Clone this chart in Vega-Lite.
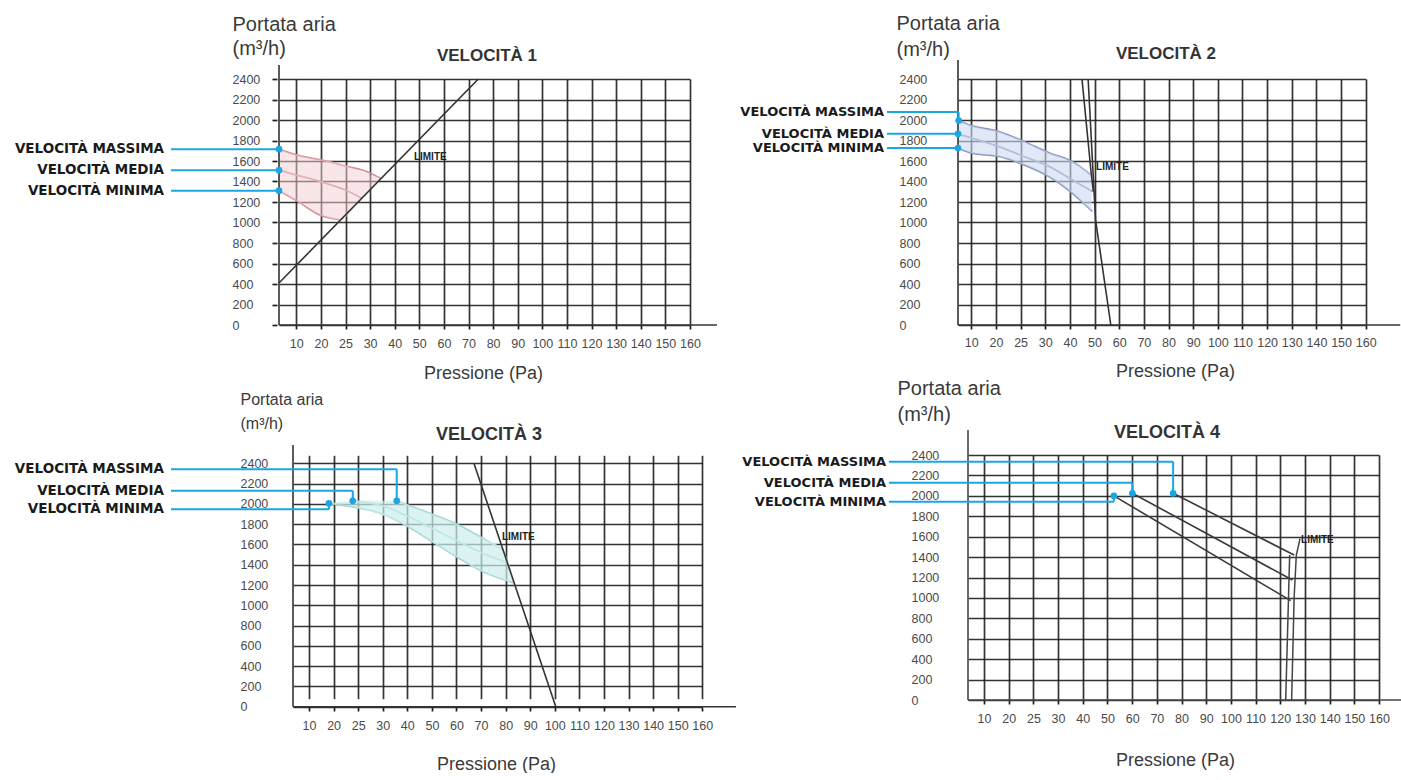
{
  "$schema": "https://vega.github.io/schema/vega-lite/v6.json",
  "background": "white",
  "padding": {"left": 14, "top": 13, "right": 0, "bottom": 0},
  "config": {
    "view": {"stroke": null},
    "axis": {"domain": false, "grid": true, "gridColor": "#1e1e1e", "gridWidth": 1.7, "gridOpacity": 0.9, "tickColor": "#1e1e1e", "tickWidth": 1.7, "labelFont": "Liberation Sans", "labelColor": "#4a4a4a", "labelFontSize": 12.5, "titleFont": "Liberation Sans", "titleFontWeight": "normal", "titleColor": "#3a3a3a", "labelOverlap": false, "labelFlush": false, "labelBound": false},
    "title": {"font": "Liberation Sans", "fontWeight": "bold", "color": "#333333", "anchor": "middle", "frame": "group"}
  },
  "datasets": {
    "curves": [
      {"panel": 1, "serie": "VELOCITÀ MASSIMA", "p": 0, "q": 1715},
      {"panel": 1, "serie": "VELOCITÀ MASSIMA", "p": 10, "q": 1659},
      {"panel": 1, "serie": "VELOCITÀ MASSIMA", "p": 20, "q": 1610},
      {"panel": 1, "serie": "VELOCITÀ MASSIMA", "p": 25, "q": 1551},
      {"panel": 1, "serie": "VELOCITÀ MASSIMA", "p": 30, "q": 1483},
      {"panel": 1, "serie": "VELOCITÀ MASSIMA", "p": 34.3, "q": 1430},
      {"panel": 1, "serie": "VELOCITÀ MEDIA", "p": 0, "q": 1510},
      {"panel": 1, "serie": "VELOCITÀ MEDIA", "p": 10, "q": 1463},
      {"panel": 1, "serie": "VELOCITÀ MEDIA", "p": 20, "q": 1398},
      {"panel": 1, "serie": "VELOCITÀ MEDIA", "p": 25, "q": 1317},
      {"panel": 1, "serie": "VELOCITÀ MEDIA", "p": 28.3, "q": 1236},
      {"panel": 1, "serie": "VELOCITÀ MINIMA", "p": 0, "q": 1310},
      {"panel": 1, "serie": "VELOCITÀ MINIMA", "p": 10, "q": 1215},
      {"panel": 1, "serie": "VELOCITÀ MINIMA", "p": 19.5, "q": 1075},
      {"panel": 1, "serie": "VELOCITÀ MINIMA", "p": 24, "q": 1025},
      {"panel": 2, "serie": "VELOCITÀ MASSIMA", "p": 0, "q": 1995},
      {"panel": 2, "serie": "VELOCITÀ MASSIMA", "p": 10, "q": 1945},
      {"panel": 2, "serie": "VELOCITÀ MASSIMA", "p": 20.6, "q": 1887},
      {"panel": 2, "serie": "VELOCITÀ MASSIMA", "p": 25.7, "q": 1790},
      {"panel": 2, "serie": "VELOCITÀ MASSIMA", "p": 31.5, "q": 1680},
      {"panel": 2, "serie": "VELOCITÀ MASSIMA", "p": 40.9, "q": 1595},
      {"panel": 2, "serie": "VELOCITÀ MASSIMA", "p": 48.4, "q": 1466},
      {"panel": 2, "serie": "VELOCITÀ MEDIA", "p": 0, "q": 1865},
      {"panel": 2, "serie": "VELOCITÀ MEDIA", "p": 10.3, "q": 1823},
      {"panel": 2, "serie": "VELOCITÀ MEDIA", "p": 20.6, "q": 1741},
      {"panel": 2, "serie": "VELOCITÀ MEDIA", "p": 25.7, "q": 1644},
      {"panel": 2, "serie": "VELOCITÀ MEDIA", "p": 31.5, "q": 1547},
      {"panel": 2, "serie": "VELOCITÀ MEDIA", "p": 40.9, "q": 1417},
      {"panel": 2, "serie": "VELOCITÀ MEDIA", "p": 49.1, "q": 1303},
      {"panel": 2, "serie": "VELOCITÀ MINIMA", "p": 0, "q": 1726},
      {"panel": 2, "serie": "VELOCITÀ MINIMA", "p": 10.3, "q": 1677},
      {"panel": 2, "serie": "VELOCITÀ MINIMA", "p": 20.6, "q": 1644},
      {"panel": 2, "serie": "VELOCITÀ MINIMA", "p": 25.7, "q": 1563},
      {"panel": 2, "serie": "VELOCITÀ MINIMA", "p": 31.5, "q": 1449},
      {"panel": 2, "serie": "VELOCITÀ MINIMA", "p": 40.9, "q": 1288},
      {"panel": 2, "serie": "VELOCITÀ MINIMA", "p": 49.1, "q": 1109},
      {"panel": 3, "serie": "VELOCITÀ MASSIMA", "p": 35.7, "q": 2030},
      {"panel": 3, "serie": "VELOCITÀ MASSIMA", "p": 40, "q": 1990},
      {"panel": 3, "serie": "VELOCITÀ MASSIMA", "p": 50, "q": 1900},
      {"panel": 3, "serie": "VELOCITÀ MASSIMA", "p": 60, "q": 1800},
      {"panel": 3, "serie": "VELOCITÀ MASSIMA", "p": 70, "q": 1670},
      {"panel": 3, "serie": "VELOCITÀ MASSIMA", "p": 79, "q": 1545},
      {"panel": 3, "serie": "VELOCITÀ MEDIA", "p": 23.9, "q": 2030},
      {"panel": 3, "serie": "VELOCITÀ MEDIA", "p": 30, "q": 1980},
      {"panel": 3, "serie": "VELOCITÀ MEDIA", "p": 40, "q": 1880},
      {"panel": 3, "serie": "VELOCITÀ MEDIA", "p": 50, "q": 1760},
      {"panel": 3, "serie": "VELOCITÀ MEDIA", "p": 60, "q": 1640},
      {"panel": 3, "serie": "VELOCITÀ MEDIA", "p": 70, "q": 1520},
      {"panel": 3, "serie": "VELOCITÀ MEDIA", "p": 80.7, "q": 1420},
      {"panel": 3, "serie": "VELOCITÀ MINIMA", "p": 18.1, "q": 2005},
      {"panel": 3, "serie": "VELOCITÀ MINIMA", "p": 25, "q": 1960},
      {"panel": 3, "serie": "VELOCITÀ MINIMA", "p": 30, "q": 1900},
      {"panel": 3, "serie": "VELOCITÀ MINIMA", "p": 40, "q": 1780},
      {"panel": 3, "serie": "VELOCITÀ MINIMA", "p": 50, "q": 1630},
      {"panel": 3, "serie": "VELOCITÀ MINIMA", "p": 60, "q": 1480},
      {"panel": 3, "serie": "VELOCITÀ MINIMA", "p": 70, "q": 1340},
      {"panel": 3, "serie": "VELOCITÀ MINIMA", "p": 83.5, "q": 1220},
      {"panel": 4, "serie": "VELOCITÀ MASSIMA", "p": 76.6, "q": 2025},
      {"panel": 4, "serie": "VELOCITÀ MASSIMA", "p": 125.6, "q": 1420},
      {"panel": 4, "serie": "VELOCITÀ MEDIA", "p": 60.1, "q": 2025},
      {"panel": 4, "serie": "VELOCITÀ MEDIA", "p": 124.9, "q": 1175},
      {"panel": 4, "serie": "VELOCITÀ MINIMA", "p": 52.6, "q": 2000},
      {"panel": 4, "serie": "VELOCITÀ MINIMA", "p": 124.2, "q": 973}
    ],
    "limits": [
      {"panel": 1, "seg": "a", "p": 0, "q": 410},
      {"panel": 1, "seg": "a", "p": 74, "q": 2400},
      {"panel": 2, "seg": "a", "p": 44.9, "q": 2400},
      {"panel": 2, "seg": "a", "p": 48.5, "q": 1515},
      {"panel": 2, "seg": "a", "p": 49.5, "q": 1300},
      {"panel": 2, "seg": "b", "p": 47.4, "q": 2400},
      {"panel": 2, "seg": "b", "p": 50.4, "q": 1028},
      {"panel": 2, "seg": "b", "p": 56.6, "q": 0},
      {"panel": 3, "seg": "a", "p": 67.1, "q": 2400},
      {"panel": 3, "seg": "a", "p": 100.4, "q": 0},
      {"panel": 4, "seg": "a", "p": 122.2, "q": 0},
      {"panel": 4, "seg": "a", "p": 123.8, "q": 1420},
      {"panel": 4, "seg": "b", "p": 124.6, "q": 0},
      {"panel": 4, "seg": "b", "p": 125.6, "q": 1000},
      {"panel": 4, "seg": "b", "p": 126.5, "q": 1420},
      {"panel": 4, "seg": "b", "p": 128, "q": 1580}
    ],
    "bands": [
      {"panel": 1, "p": 0, "lo": 1310, "hi": 1715},
      {"panel": 1, "p": 10, "lo": 1215, "hi": 1659},
      {"panel": 1, "p": 20, "lo": 1073, "hi": 1610},
      {"panel": 1, "p": 24, "lo": 1025, "hi": 1575},
      {"panel": 1, "p": 28, "lo": 1222, "hi": 1500},
      {"panel": 1, "p": 34.3, "lo": 1430, "hi": 1430},
      {"panel": 2, "p": 0, "lo": 1726, "hi": 1995},
      {"panel": 2, "p": 10.3, "lo": 1677, "hi": 1943},
      {"panel": 2, "p": 20.6, "lo": 1644, "hi": 1887},
      {"panel": 2, "p": 25.7, "lo": 1563, "hi": 1790},
      {"panel": 2, "p": 31.5, "lo": 1449, "hi": 1680},
      {"panel": 2, "p": 40.9, "lo": 1288, "hi": 1595},
      {"panel": 2, "p": 48.8, "lo": 1109, "hi": 1466},
      {"panel": 3, "p": 18.1, "lo": 2005, "hi": 2005},
      {"panel": 3, "p": 25, "lo": 1960, "hi": 2030},
      {"panel": 3, "p": 35.7, "lo": 1830, "hi": 2030},
      {"panel": 3, "p": 40, "lo": 1780, "hi": 1990},
      {"panel": 3, "p": 50, "lo": 1630, "hi": 1900},
      {"panel": 3, "p": 60, "lo": 1480, "hi": 1800},
      {"panel": 3, "p": 70, "lo": 1340, "hi": 1670},
      {"panel": 3, "p": 79, "lo": 1255, "hi": 1545},
      {"panel": 3, "p": 83.5, "lo": 1220, "hi": 1220}
    ],
    "callouts": [
      {"panel": 1, "serie": "VELOCITÀ MASSIMA", "pa": -62.4, "p0": 0, "q0": 1715, "ql": 1715},
      {"panel": 1, "serie": "VELOCITÀ MEDIA", "pa": -62.4, "p0": 0, "q0": 1510, "ql": 1510},
      {"panel": 1, "serie": "VELOCITÀ MINIMA", "pa": -62.4, "p0": 0, "q0": 1310, "ql": 1310},
      {"panel": 2, "serie": "VELOCITÀ MASSIMA", "pa": -53.4, "p0": 0.5, "q0": 1995, "ql": 2077},
      {"panel": 2, "serie": "VELOCITÀ MEDIA", "pa": -53.4, "p0": 0, "q0": 1865, "ql": 1865},
      {"panel": 2, "serie": "VELOCITÀ MINIMA", "pa": -53.4, "p0": 0, "q0": 1726, "ql": 1726},
      {"panel": 3, "serie": "VELOCITÀ MASSIMA", "pa": -76.25, "p0": 35.7, "q0": 2030, "ql": 2341},
      {"panel": 3, "serie": "VELOCITÀ MEDIA", "pa": -76.25, "p0": 23.9, "q0": 2030, "ql": 2130},
      {"panel": 3, "serie": "VELOCITÀ MINIMA", "pa": -76.25, "p0": 18.1, "q0": 2005, "ql": 1946},
      {"panel": 4, "serie": "VELOCITÀ MASSIMA", "pa": -49.4, "p0": 76.6, "q0": 2025, "ql": 2334},
      {"panel": 4, "serie": "VELOCITÀ MEDIA", "pa": -49.4, "p0": 60.1, "q0": 2025, "ql": 2128},
      {"panel": 4, "serie": "VELOCITÀ MINIMA", "pa": -49.4, "p0": 52.6, "q0": 2000, "ql": 1942}
    ],
    "axisLines": [
      {"panel": 1, "pa": 0, "pb": 171, "qa": 0, "qb": 0},
      {"panel": 1, "pa": 0, "pb": 0, "qa": 0, "qb": 2537},
      {"panel": 2, "pa": 0, "pb": 174, "qa": 0, "qb": 0},
      {"panel": 2, "pa": 0, "pb": 0, "qa": 0, "qb": 2585},
      {"panel": 3, "pa": 0, "pb": 173.7, "qa": 0, "qb": 0},
      {"panel": 3, "pa": 0, "pb": 0, "qa": 0, "qb": 2580},
      {"panel": 4, "pa": 0, "pb": 170, "qa": 0, "qb": 0},
      {"panel": 4, "pa": 0, "pb": 0, "qa": 0, "qb": 2645}
    ],
    "limitLabels": [
      {"panel": 1, "p": 47.8, "q": 1639, "label": "LIMITE"},
      {"panel": 2, "p": 50.6, "q": 1541, "label": "LIMITE"},
      {"panel": 3, "p": 78.5, "q": 1673, "label": "LIMITE"},
      {"panel": 4, "p": 128.4, "q": 1567, "label": "LIMITE"}
    ]
  },
  "columns": 2,
  "align": "none",
  "bounds": "flush",
  "spacing": {"row": 130, "column": 249},
  "concat": [
    {
      "width": 413, "height": 246,
      "title": {"text": "VELOCITÀ 1", "fontSize": 17, "offset": -64, "dx": 3.5, "baseline": "alphabetic"},
      "layer": [
        {"data": {"name": "curves"}, "transform": [{"filter": "datum.panel == 1"}],
         "mark": {"type": "line", "color": "#d8909c", "strokeWidth": 1.8, "interpolate": "monotone"},
         "encoding": {"x": {"field": "p", "type": "quantitative", "scale": {"domain": [0,10,20,25,30,40,50,60,70,80,90,100,110,120,130,140,150,160], "range": [2,19.3,43.9,68.5,93.1,117.7,142.3,166.9,191.5,216.1,240.7,265.3,289.9,314.5,339.1,363.7,388.3,412.9], "nice": false, "zero": false},
                            "axis": {"values": [10,20,25,30,40,50,60,70,80,90,100,110,120,130,140,150,160], "tickCount": 40, "format": "d", "title": "Pressione (Pa)", "titleX": 206, "titleY": 53, "titleAlign": "center", "titleBaseline": "alphabetic", "titleFontSize": 18, "tickSize": 4, "labelPadding": 8}},
                      "y": {"field": "q", "type": "quantitative", "scale": {"domain": [0,2400], "range": [246,0], "nice": false, "zero": false},
                            "axis": {"values": [0,200,400,600,800,1000,1200,1400,1600,1800,2000,2200,2400], "tickCount": 40, "format": "d", "title": ["Portata aria", "(m³/h)"], "titleAngle": 0, "titleAlign": "left", "titleBaseline": "top", "titleX": -45, "titleY": -65, "titleFontSize": 20, "titleLineHeight": 24, "tickSize": 5, "labelAlign": "left", "labelBaseline": "middle", "labelPadding": 40}},
                      "detail": {"field": "serie", "type": "nominal"}}},
        {"data": {"name": "bands"}, "transform": [{"filter": "datum.panel == 1"}],
         "mark": {"type": "area", "color": "#f2cdd4", "opacity": 0.5, "interpolate": "monotone"},
         "encoding": {"x": {"field": "p", "type": "quantitative", "scale": {"domain": [0,10,20,25,30,40,50,60,70,80,90,100,110,120,130,140,150,160], "range": [2,19.3,43.9,68.5,93.1,117.7,142.3,166.9,191.5,216.1,240.7,265.3,289.9,314.5,339.1,363.7,388.3,412.9], "nice": false, "zero": false}},
                      "y": {"field": "lo", "type": "quantitative", "scale": {"domain": [0,2400], "range": [246,0], "nice": false, "zero": false}},
                      "y2": {"field": "hi"}}},
        {"data": {"name": "limits"}, "transform": [{"filter": "datum.panel == 1"}],
         "mark": {"type": "line", "color": "#333333", "strokeWidth": 1.6},
         "encoding": {"x": {"field": "p", "type": "quantitative", "scale": {"domain": [0,10,20,25,30,40,50,60,70,80,90,100,110,120,130,140,150,160], "range": [2,19.3,43.9,68.5,93.1,117.7,142.3,166.9,191.5,216.1,240.7,265.3,289.9,314.5,339.1,363.7,388.3,412.9], "nice": false, "zero": false}},
                      "y": {"field": "q", "type": "quantitative", "scale": {"domain": [0,2400], "range": [246,0], "nice": false, "zero": false}},
                      "detail": {"field": "seg", "type": "nominal"}}},
        {"data": {"name": "axisLines"}, "transform": [{"filter": "datum.panel == 1"}],
         "mark": {"type": "rule", "color": "#333333", "strokeWidth": 1.6},
         "encoding": {"x": {"field": "pa", "type": "quantitative", "scale": {"domain": [0,10,20,25,30,40,50,60,70,80,90,100,110,120,130,140,150,160], "range": [2,19.3,43.9,68.5,93.1,117.7,142.3,166.9,191.5,216.1,240.7,265.3,289.9,314.5,339.1,363.7,388.3,412.9], "nice": false, "zero": false}},
                      "x2": {"field": "pb"},
                      "y": {"field": "qa", "type": "quantitative", "scale": {"domain": [0,2400], "range": [246,0], "nice": false, "zero": false}},
                      "y2": {"field": "qb"}}},
        {"data": {"name": "limitLabels"}, "transform": [{"filter": "datum.panel == 1"}],
         "mark": {"type": "text", "align": "left", "baseline": "middle", "font": "Liberation Sans", "fontWeight": "bold", "fontSize": 10, "color": "#222222"},
         "encoding": {"x": {"field": "p", "type": "quantitative", "scale": {"domain": [0,10,20,25,30,40,50,60,70,80,90,100,110,120,130,140,150,160], "range": [2,19.3,43.9,68.5,93.1,117.7,142.3,166.9,191.5,216.1,240.7,265.3,289.9,314.5,339.1,363.7,388.3,412.9], "nice": false, "zero": false}},
                      "y": {"field": "q", "type": "quantitative", "scale": {"domain": [0,2400], "range": [246,0], "nice": false, "zero": false}},
                      "text": {"field": "label", "type": "nominal"}}},
        {"data": {"name": "callouts"}, "transform": [{"filter": "datum.panel == 1"}],
         "mark": {"type": "rule", "color": "#1aa6e2", "strokeWidth": 2},
         "encoding": {"x": {"field": "pa", "type": "quantitative", "scale": {"domain": [0,10,20,25,30,40,50,60,70,80,90,100,110,120,130,140,150,160], "range": [2,19.3,43.9,68.5,93.1,117.7,142.3,166.9,191.5,216.1,240.7,265.3,289.9,314.5,339.1,363.7,388.3,412.9], "nice": false, "zero": false}},
                      "x2": {"field": "p0"},
                      "y": {"field": "ql", "type": "quantitative", "scale": {"domain": [0,2400], "range": [246,0], "nice": false, "zero": false}}}},
        {"data": {"name": "callouts"}, "transform": [{"filter": "datum.panel == 1"}],
         "mark": {"type": "point", "filled": true, "color": "#1aa6e2", "size": 45, "opacity": 1},
         "encoding": {"x": {"field": "p0", "type": "quantitative", "scale": {"domain": [0,10,20,25,30,40,50,60,70,80,90,100,110,120,130,140,150,160], "range": [2,19.3,43.9,68.5,93.1,117.7,142.3,166.9,191.5,216.1,240.7,265.3,289.9,314.5,339.1,363.7,388.3,412.9], "nice": false, "zero": false}},
                      "y": {"field": "q0", "type": "quantitative", "scale": {"domain": [0,2400], "range": [246,0], "nice": false, "zero": false}}}},
        {"data": {"name": "callouts"}, "transform": [{"filter": "datum.panel == 1"}],
         "mark": {"type": "text", "align": "right", "baseline": "middle", "dx": -7, "font": "DejaVu Sans", "fontWeight": "bold", "fontSize": 13.5, "color": "#1a1a1a"},
         "encoding": {"x": {"field": "pa", "type": "quantitative", "scale": {"domain": [0,10,20,25,30,40,50,60,70,80,90,100,110,120,130,140,150,160], "range": [2,19.3,43.9,68.5,93.1,117.7,142.3,166.9,191.5,216.1,240.7,265.3,289.9,314.5,339.1,363.7,388.3,412.9], "nice": false, "zero": false}},
                      "y": {"field": "ql", "type": "quantitative", "scale": {"domain": [0,2400], "range": [246,0], "nice": false, "zero": false}},
                      "text": {"field": "serie", "type": "nominal"}}}
      ]
    },
    {
      "width": 415, "height": 246,
      "title": {"text": "VELOCITÀ 2", "fontSize": 17, "offset": -63, "dx": 7.5, "baseline": "alphabetic"},
      "layer": [
        {"data": {"name": "curves"}, "transform": [{"filter": "datum.panel == 2"}],
         "mark": {"type": "line", "color": "#8493bd", "strokeWidth": 1.8, "interpolate": "monotone"},
         "encoding": {"x": {"field": "p", "type": "quantitative", "scale": {"domain": [0,10,20,25,30,40,50,60,70,80,90,100,110,120,130,140,150,160], "range": [7,20.3,44.95,69.6,94.25,118.9,143.55,168.2,192.85,217.5,242.15,266.8,291.45,316.1,340.75,365.4,390.05,414.7], "nice": false, "zero": false},
                            "axis": {"values": [10,20,25,30,40,50,60,70,80,90,100,110,120,130,140,150,160], "tickCount": 40, "format": "d", "title": "Pressione (Pa)", "titleX": 224, "titleY": 51, "titleAlign": "center", "titleBaseline": "alphabetic", "titleFontSize": 18, "tickSize": 4, "labelPadding": 7}},
                      "y": {"field": "q", "type": "quantitative", "scale": {"domain": [0,2400], "range": [246,0], "nice": false, "zero": false},
                            "axis": {"values": [0,200,400,600,800,1000,1200,1400,1600,1800,2000,2200,2400], "tickCount": 40, "format": "d", "title": ["Portata aria", "(m³/h)"], "titleAngle": 0, "titleAlign": "left", "titleBaseline": "top", "titleX": -55, "titleY": -66, "titleFontSize": 20, "titleLineHeight": 26, "tickSize": 0, "labelAlign": "left", "labelBaseline": "middle", "labelPadding": 52}},
                      "detail": {"field": "serie", "type": "nominal"}}},
        {"data": {"name": "bands"}, "transform": [{"filter": "datum.panel == 2"}],
         "mark": {"type": "area", "color": "#cfdaf0", "opacity": 0.6, "interpolate": "monotone"},
         "encoding": {"x": {"field": "p", "type": "quantitative", "scale": {"domain": [0,10,20,25,30,40,50,60,70,80,90,100,110,120,130,140,150,160], "range": [7,20.3,44.95,69.6,94.25,118.9,143.55,168.2,192.85,217.5,242.15,266.8,291.45,316.1,340.75,365.4,390.05,414.7], "nice": false, "zero": false}},
                      "y": {"field": "lo", "type": "quantitative", "scale": {"domain": [0,2400], "range": [246,0], "nice": false, "zero": false}},
                      "y2": {"field": "hi"}}},
        {"data": {"name": "limits"}, "transform": [{"filter": "datum.panel == 2"}],
         "mark": {"type": "line", "color": "#333333", "strokeWidth": 1.6},
         "encoding": {"x": {"field": "p", "type": "quantitative", "scale": {"domain": [0,10,20,25,30,40,50,60,70,80,90,100,110,120,130,140,150,160], "range": [7,20.3,44.95,69.6,94.25,118.9,143.55,168.2,192.85,217.5,242.15,266.8,291.45,316.1,340.75,365.4,390.05,414.7], "nice": false, "zero": false}},
                      "y": {"field": "q", "type": "quantitative", "scale": {"domain": [0,2400], "range": [246,0], "nice": false, "zero": false}},
                      "detail": {"field": "seg", "type": "nominal"}}},
        {"data": {"name": "axisLines"}, "transform": [{"filter": "datum.panel == 2"}],
         "mark": {"type": "rule", "color": "#333333", "strokeWidth": 1.6},
         "encoding": {"x": {"field": "pa", "type": "quantitative", "scale": {"domain": [0,10,20,25,30,40,50,60,70,80,90,100,110,120,130,140,150,160], "range": [7,20.3,44.95,69.6,94.25,118.9,143.55,168.2,192.85,217.5,242.15,266.8,291.45,316.1,340.75,365.4,390.05,414.7], "nice": false, "zero": false}},
                      "x2": {"field": "pb"},
                      "y": {"field": "qa", "type": "quantitative", "scale": {"domain": [0,2400], "range": [246,0], "nice": false, "zero": false}},
                      "y2": {"field": "qb"}}},
        {"data": {"name": "limitLabels"}, "transform": [{"filter": "datum.panel == 2"}],
         "mark": {"type": "text", "align": "left", "baseline": "middle", "font": "Liberation Sans", "fontWeight": "bold", "fontSize": 10, "color": "#222222"},
         "encoding": {"x": {"field": "p", "type": "quantitative", "scale": {"domain": [0,10,20,25,30,40,50,60,70,80,90,100,110,120,130,140,150,160], "range": [7,20.3,44.95,69.6,94.25,118.9,143.55,168.2,192.85,217.5,242.15,266.8,291.45,316.1,340.75,365.4,390.05,414.7], "nice": false, "zero": false}},
                      "y": {"field": "q", "type": "quantitative", "scale": {"domain": [0,2400], "range": [246,0], "nice": false, "zero": false}},
                      "text": {"field": "label", "type": "nominal"}}},
        {"data": {"name": "callouts"}, "transform": [{"filter": "datum.panel == 2"}],
         "mark": {"type": "rule", "color": "#1aa6e2", "strokeWidth": 2},
         "encoding": {"x": {"field": "pa", "type": "quantitative", "scale": {"domain": [0,10,20,25,30,40,50,60,70,80,90,100,110,120,130,140,150,160], "range": [7,20.3,44.95,69.6,94.25,118.9,143.55,168.2,192.85,217.5,242.15,266.8,291.45,316.1,340.75,365.4,390.05,414.7], "nice": false, "zero": false}},
                      "x2": {"field": "p0"},
                      "y": {"field": "ql", "type": "quantitative", "scale": {"domain": [0,2400], "range": [246,0], "nice": false, "zero": false}}}},
        {"data": {"name": "callouts"}, "transform": [{"filter": "datum.panel == 2"}],
         "mark": {"type": "rule", "color": "#1aa6e2", "strokeWidth": 2},
         "encoding": {"x": {"field": "p0", "type": "quantitative", "scale": {"domain": [0,10,20,25,30,40,50,60,70,80,90,100,110,120,130,140,150,160], "range": [7,20.3,44.95,69.6,94.25,118.9,143.55,168.2,192.85,217.5,242.15,266.8,291.45,316.1,340.75,365.4,390.05,414.7], "nice": false, "zero": false}},
                      "y": {"field": "ql", "type": "quantitative", "scale": {"domain": [0,2400], "range": [246,0], "nice": false, "zero": false}},
                      "y2": {"field": "q0"}}},
        {"data": {"name": "callouts"}, "transform": [{"filter": "datum.panel == 2"}],
         "mark": {"type": "point", "filled": true, "color": "#1aa6e2", "size": 45, "opacity": 1},
         "encoding": {"x": {"field": "p0", "type": "quantitative", "scale": {"domain": [0,10,20,25,30,40,50,60,70,80,90,100,110,120,130,140,150,160], "range": [7,20.3,44.95,69.6,94.25,118.9,143.55,168.2,192.85,217.5,242.15,266.8,291.45,316.1,340.75,365.4,390.05,414.7], "nice": false, "zero": false}},
                      "y": {"field": "q0", "type": "quantitative", "scale": {"domain": [0,2400], "range": [246,0], "nice": false, "zero": false}}}},
        {"data": {"name": "callouts"}, "transform": [{"filter": "datum.panel == 2"}],
         "mark": {"type": "text", "align": "right", "baseline": "middle", "dx": -3, "font": "DejaVu Sans", "fontWeight": "bold", "fontSize": 13, "color": "#1a1a1a"},
         "encoding": {"x": {"field": "pa", "type": "quantitative", "scale": {"domain": [0,10,20,25,30,40,50,60,70,80,90,100,110,120,130,140,150,160], "range": [7,20.3,44.95,69.6,94.25,118.9,143.55,168.2,192.85,217.5,242.15,266.8,291.45,316.1,340.75,365.4,390.05,414.7], "nice": false, "zero": false}},
                      "y": {"field": "ql", "type": "quantitative", "scale": {"domain": [0,2400], "range": [246,0], "nice": false, "zero": false}},
                      "text": {"field": "serie", "type": "nominal"}}}
      ]
    },
    {
      "width": 425, "height": 252,
      "title": {"text": "VELOCITÀ 3", "fontSize": 18, "offset": -67, "dx": -0.5, "baseline": "alphabetic"},
      "layer": [
        {"data": {"name": "curves"}, "transform": [{"filter": "datum.panel == 3"}],
         "mark": {"type": "line", "color": "#9fd2d2", "strokeWidth": 1.8, "interpolate": "monotone"},
         "encoding": {"x": {"field": "p", "type": "quantitative", "scale": {"domain": [0,10,20,25,30,40,50,60,70,80,90,100,110,120,130,140,150,160], "range": [16,32,56.58,81.16,105.74,130.32,154.9,179.48,204.06,228.64,253.22,277.8,302.38,326.96,351.54,376.12,400.7,425.28], "nice": false, "zero": false},
                            "axis": {"values": [10,20,25,30,40,50,60,70,80,90,100,110,120,130,140,150,160], "tickCount": 40, "format": "d", "title": "Pressione (Pa)", "titleX": 219, "titleY": 62, "titleAlign": "center", "titleBaseline": "alphabetic", "titleFontSize": 18, "tickSize": 4, "labelPadding": 8}},
                      "y": {"field": "q", "type": "quantitative", "scale": {"domain": [0,2400], "range": [251.7,8.3], "nice": false, "zero": false},
                            "axis": {"values": [0,200,400,600,800,1000,1200,1400,1600,1800,2000,2200,2400], "tickCount": 40, "format": "d", "title": ["Portata aria", "(m³/h)"], "titleAngle": 0, "titleAlign": "left", "titleBaseline": "top", "titleX": -37, "titleY": -64, "titleFontSize": 16, "titleLineHeight": 24, "tickSize": 0, "labelAlign": "left", "labelBaseline": "middle", "labelPadding": 37}},
                      "detail": {"field": "serie", "type": "nominal"}}},
        {"data": {"name": "bands"}, "transform": [{"filter": "datum.panel == 3"}],
         "mark": {"type": "area", "color": "#cdeeee", "opacity": 0.7, "interpolate": "monotone"},
         "encoding": {"x": {"field": "p", "type": "quantitative", "scale": {"domain": [0,10,20,25,30,40,50,60,70,80,90,100,110,120,130,140,150,160], "range": [16,32,56.58,81.16,105.74,130.32,154.9,179.48,204.06,228.64,253.22,277.8,302.38,326.96,351.54,376.12,400.7,425.28], "nice": false, "zero": false}},
                      "y": {"field": "lo", "type": "quantitative", "scale": {"domain": [0,2400], "range": [251.7,8.3], "nice": false, "zero": false}},
                      "y2": {"field": "hi"}}},
        {"data": {"name": "limits"}, "transform": [{"filter": "datum.panel == 3"}],
         "mark": {"type": "line", "color": "#333333", "strokeWidth": 1.6},
         "encoding": {"x": {"field": "p", "type": "quantitative", "scale": {"domain": [0,10,20,25,30,40,50,60,70,80,90,100,110,120,130,140,150,160], "range": [16,32,56.58,81.16,105.74,130.32,154.9,179.48,204.06,228.64,253.22,277.8,302.38,326.96,351.54,376.12,400.7,425.28], "nice": false, "zero": false}},
                      "y": {"field": "q", "type": "quantitative", "scale": {"domain": [0,2400], "range": [251.7,8.3], "nice": false, "zero": false}},
                      "detail": {"field": "seg", "type": "nominal"}}},
        {"data": {"name": "axisLines"}, "transform": [{"filter": "datum.panel == 3"}],
         "mark": {"type": "rule", "color": "#333333", "strokeWidth": 1.6},
         "encoding": {"x": {"field": "pa", "type": "quantitative", "scale": {"domain": [0,10,20,25,30,40,50,60,70,80,90,100,110,120,130,140,150,160], "range": [16,32,56.58,81.16,105.74,130.32,154.9,179.48,204.06,228.64,253.22,277.8,302.38,326.96,351.54,376.12,400.7,425.28], "nice": false, "zero": false}},
                      "x2": {"field": "pb"},
                      "y": {"field": "qa", "type": "quantitative", "scale": {"domain": [0,2400], "range": [251.7,8.3], "nice": false, "zero": false}},
                      "y2": {"field": "qb"}}},
        {"data": {"name": "limitLabels"}, "transform": [{"filter": "datum.panel == 3"}],
         "mark": {"type": "text", "align": "left", "baseline": "middle", "font": "Liberation Sans", "fontWeight": "bold", "fontSize": 10, "color": "#222222"},
         "encoding": {"x": {"field": "p", "type": "quantitative", "scale": {"domain": [0,10,20,25,30,40,50,60,70,80,90,100,110,120,130,140,150,160], "range": [16,32,56.58,81.16,105.74,130.32,154.9,179.48,204.06,228.64,253.22,277.8,302.38,326.96,351.54,376.12,400.7,425.28], "nice": false, "zero": false}},
                      "y": {"field": "q", "type": "quantitative", "scale": {"domain": [0,2400], "range": [251.7,8.3], "nice": false, "zero": false}},
                      "text": {"field": "label", "type": "nominal"}}},
        {"data": {"name": "callouts"}, "transform": [{"filter": "datum.panel == 3"}],
         "mark": {"type": "rule", "color": "#1aa6e2", "strokeWidth": 2},
         "encoding": {"x": {"field": "pa", "type": "quantitative", "scale": {"domain": [0,10,20,25,30,40,50,60,70,80,90,100,110,120,130,140,150,160], "range": [16,32,56.58,81.16,105.74,130.32,154.9,179.48,204.06,228.64,253.22,277.8,302.38,326.96,351.54,376.12,400.7,425.28], "nice": false, "zero": false}},
                      "x2": {"field": "p0"},
                      "y": {"field": "ql", "type": "quantitative", "scale": {"domain": [0,2400], "range": [251.7,8.3], "nice": false, "zero": false}}}},
        {"data": {"name": "callouts"}, "transform": [{"filter": "datum.panel == 3"}],
         "mark": {"type": "rule", "color": "#1aa6e2", "strokeWidth": 2},
         "encoding": {"x": {"field": "p0", "type": "quantitative", "scale": {"domain": [0,10,20,25,30,40,50,60,70,80,90,100,110,120,130,140,150,160], "range": [16,32,56.58,81.16,105.74,130.32,154.9,179.48,204.06,228.64,253.22,277.8,302.38,326.96,351.54,376.12,400.7,425.28], "nice": false, "zero": false}},
                      "y": {"field": "ql", "type": "quantitative", "scale": {"domain": [0,2400], "range": [251.7,8.3], "nice": false, "zero": false}},
                      "y2": {"field": "q0"}}},
        {"data": {"name": "callouts"}, "transform": [{"filter": "datum.panel == 3"}],
         "mark": {"type": "point", "filled": true, "color": "#1aa6e2", "size": 45, "opacity": 1},
         "encoding": {"x": {"field": "p0", "type": "quantitative", "scale": {"domain": [0,10,20,25,30,40,50,60,70,80,90,100,110,120,130,140,150,160], "range": [16,32,56.58,81.16,105.74,130.32,154.9,179.48,204.06,228.64,253.22,277.8,302.38,326.96,351.54,376.12,400.7,425.28], "nice": false, "zero": false}},
                      "y": {"field": "q0", "type": "quantitative", "scale": {"domain": [0,2400], "range": [251.7,8.3], "nice": false, "zero": false}}}},
        {"data": {"name": "callouts"}, "transform": [{"filter": "datum.panel == 3"}],
         "mark": {"type": "text", "align": "right", "baseline": "middle", "dx": -7, "font": "DejaVu Sans", "fontWeight": "bold", "fontSize": 13.5, "color": "#1a1a1a"},
         "encoding": {"x": {"field": "pa", "type": "quantitative", "scale": {"domain": [0,10,20,25,30,40,50,60,70,80,90,100,110,120,130,140,150,160], "range": [16,32,56.58,81.16,105.74,130.32,154.9,179.48,204.06,228.64,253.22,277.8,302.38,326.96,351.54,376.12,400.7,425.28], "nice": false, "zero": false}},
                      "y": {"field": "ql", "type": "quantitative", "scale": {"domain": [0,2400], "range": [251.7,8.3], "nice": false, "zero": false}},
                      "text": {"field": "serie", "type": "nominal"}}}
      ]
    },
    {
      "width": 428, "height": 245,
      "title": {"text": "VELOCITÀ 4", "fontSize": 18, "offset": -78, "dx": 2, "baseline": "alphabetic"},
      "layer": [
        {"data": {"name": "curves"}, "transform": [{"filter": "datum.panel == 4"}],
         "mark": {"type": "line", "color": "#3a3a3a", "strokeWidth": 1.6},
         "encoding": {"x": {"field": "p", "type": "quantitative", "scale": {"domain": [0,10,20,25,30,40,50,60,70,80,90,100,110,120,130,140,150,160], "range": [17,33,57.69,82.38,107.07,131.76,156.45,181.14,205.83,230.52,255.21,279.9,304.59,329.28,353.97,378.66,403.35,428.04], "nice": false, "zero": false},
                            "axis": {"values": [10,20,25,30,40,50,60,70,80,90,100,110,120,130,140,150,160], "tickCount": 40, "format": "d", "title": "Pressione (Pa)", "titleX": 224, "titleY": 65, "titleAlign": "center", "titleBaseline": "alphabetic", "titleFontSize": 18, "tickSize": 4, "labelPadding": 8}},
                      "y": {"field": "q", "type": "quantitative", "scale": {"domain": [0,2400], "range": [245,0], "nice": false, "zero": false},
                            "axis": {"values": [0,200,400,600,800,1000,1200,1400,1600,1800,2000,2200,2400], "tickCount": 40, "format": "d", "title": ["Portata aria", "(m³/h)"], "titleAngle": 0, "titleAlign": "left", "titleBaseline": "top", "titleX": -54, "titleY": -77, "titleFontSize": 20, "titleLineHeight": 26, "tickSize": 0, "labelAlign": "left", "labelBaseline": "middle", "labelPadding": 40}},
                      "detail": {"field": "serie", "type": "nominal"}}},
        {"data": {"name": "limits"}, "transform": [{"filter": "datum.panel == 4"}],
         "mark": {"type": "line", "color": "#444444", "strokeWidth": 1.5},
         "encoding": {"x": {"field": "p", "type": "quantitative", "scale": {"domain": [0,10,20,25,30,40,50,60,70,80,90,100,110,120,130,140,150,160], "range": [17,33,57.69,82.38,107.07,131.76,156.45,181.14,205.83,230.52,255.21,279.9,304.59,329.28,353.97,378.66,403.35,428.04], "nice": false, "zero": false}},
                      "y": {"field": "q", "type": "quantitative", "scale": {"domain": [0,2400], "range": [245,0], "nice": false, "zero": false}},
                      "detail": {"field": "seg", "type": "nominal"}}},
        {"data": {"name": "axisLines"}, "transform": [{"filter": "datum.panel == 4"}],
         "mark": {"type": "rule", "color": "#444444", "strokeWidth": 1.6},
         "encoding": {"x": {"field": "pa", "type": "quantitative", "scale": {"domain": [0,10,20,25,30,40,50,60,70,80,90,100,110,120,130,140,150,160], "range": [17,33,57.69,82.38,107.07,131.76,156.45,181.14,205.83,230.52,255.21,279.9,304.59,329.28,353.97,378.66,403.35,428.04], "nice": false, "zero": false}},
                      "x2": {"field": "pb"},
                      "y": {"field": "qa", "type": "quantitative", "scale": {"domain": [0,2400], "range": [245,0], "nice": false, "zero": false}},
                      "y2": {"field": "qb"}}},
        {"data": {"name": "limitLabels"}, "transform": [{"filter": "datum.panel == 4"}],
         "mark": {"type": "text", "align": "left", "baseline": "middle", "font": "Liberation Sans", "fontWeight": "bold", "fontSize": 10, "color": "#222222"},
         "encoding": {"x": {"field": "p", "type": "quantitative", "scale": {"domain": [0,10,20,25,30,40,50,60,70,80,90,100,110,120,130,140,150,160], "range": [17,33,57.69,82.38,107.07,131.76,156.45,181.14,205.83,230.52,255.21,279.9,304.59,329.28,353.97,378.66,403.35,428.04], "nice": false, "zero": false}},
                      "y": {"field": "q", "type": "quantitative", "scale": {"domain": [0,2400], "range": [245,0], "nice": false, "zero": false}},
                      "text": {"field": "label", "type": "nominal"}}},
        {"data": {"name": "callouts"}, "transform": [{"filter": "datum.panel == 4"}],
         "mark": {"type": "rule", "color": "#1aa6e2", "strokeWidth": 2},
         "encoding": {"x": {"field": "pa", "type": "quantitative", "scale": {"domain": [0,10,20,25,30,40,50,60,70,80,90,100,110,120,130,140,150,160], "range": [17,33,57.69,82.38,107.07,131.76,156.45,181.14,205.83,230.52,255.21,279.9,304.59,329.28,353.97,378.66,403.35,428.04], "nice": false, "zero": false}},
                      "x2": {"field": "p0"},
                      "y": {"field": "ql", "type": "quantitative", "scale": {"domain": [0,2400], "range": [245,0], "nice": false, "zero": false}}}},
        {"data": {"name": "callouts"}, "transform": [{"filter": "datum.panel == 4"}],
         "mark": {"type": "rule", "color": "#1aa6e2", "strokeWidth": 2},
         "encoding": {"x": {"field": "p0", "type": "quantitative", "scale": {"domain": [0,10,20,25,30,40,50,60,70,80,90,100,110,120,130,140,150,160], "range": [17,33,57.69,82.38,107.07,131.76,156.45,181.14,205.83,230.52,255.21,279.9,304.59,329.28,353.97,378.66,403.35,428.04], "nice": false, "zero": false}},
                      "y": {"field": "ql", "type": "quantitative", "scale": {"domain": [0,2400], "range": [245,0], "nice": false, "zero": false}},
                      "y2": {"field": "q0"}}},
        {"data": {"name": "callouts"}, "transform": [{"filter": "datum.panel == 4"}],
         "mark": {"type": "point", "filled": true, "color": "#1aa6e2", "size": 45, "opacity": 1},
         "encoding": {"x": {"field": "p0", "type": "quantitative", "scale": {"domain": [0,10,20,25,30,40,50,60,70,80,90,100,110,120,130,140,150,160], "range": [17,33,57.69,82.38,107.07,131.76,156.45,181.14,205.83,230.52,255.21,279.9,304.59,329.28,353.97,378.66,403.35,428.04], "nice": false, "zero": false}},
                      "y": {"field": "q0", "type": "quantitative", "scale": {"domain": [0,2400], "range": [245,0], "nice": false, "zero": false}}}},
        {"data": {"name": "callouts"}, "transform": [{"filter": "datum.panel == 4"}],
         "mark": {"type": "text", "align": "right", "baseline": "middle", "dx": -3, "font": "DejaVu Sans", "fontWeight": "bold", "fontSize": 13, "color": "#1a1a1a"},
         "encoding": {"x": {"field": "pa", "type": "quantitative", "scale": {"domain": [0,10,20,25,30,40,50,60,70,80,90,100,110,120,130,140,150,160], "range": [17,33,57.69,82.38,107.07,131.76,156.45,181.14,205.83,230.52,255.21,279.9,304.59,329.28,353.97,378.66,403.35,428.04], "nice": false, "zero": false}},
                      "y": {"field": "ql", "type": "quantitative", "scale": {"domain": [0,2400], "range": [245,0], "nice": false, "zero": false}},
                      "text": {"field": "serie", "type": "nominal"}}}
      ]
    }
  ]
}
